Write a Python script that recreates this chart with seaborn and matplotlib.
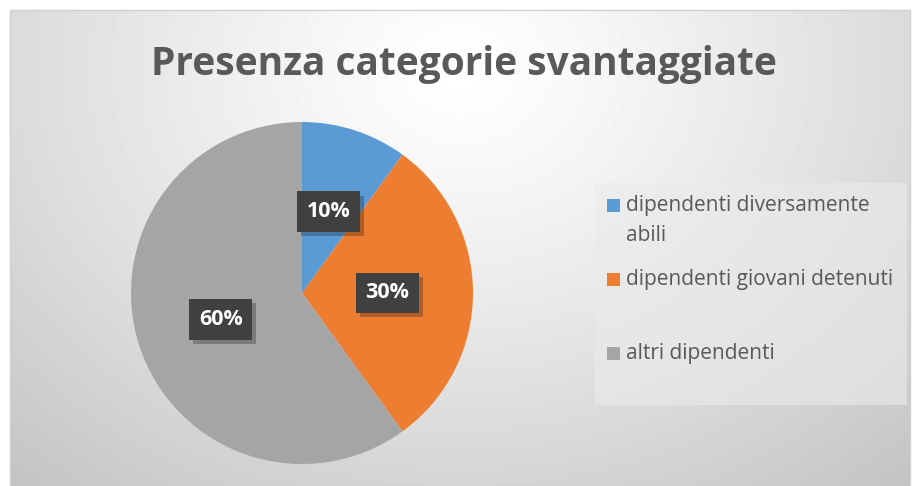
import numpy as np
import matplotlib
matplotlib.use("Agg")
import matplotlib.pyplot as plt
import matplotlib.patheffects as pe
from matplotlib.patches import Rectangle
import seaborn as sns

# Data
CATEGORIES = ["dipendenti diversamente\nabili", "dipendenti giovani detenuti", "altri dipendenti"]
SHARES = [10, 30, 60]
COLORS = ["#5B9BD5", "#ED7D31", "#A5A5A5"]
TITLE = "Presenza categorie svantaggiate"

sns.set_style("white")
plt.rcParams['font.family'] = ['Open Sans', 'DejaVu Sans']

W, H = 914, 486
fig = plt.figure(figsize=(W / 100, H / 100), dpi=100)
fig.patch.set_facecolor("white")

# background with soft radial gradient
bg = fig.add_axes([10 / W, 0, 900 / W, 476 / H])
yy, xx = np.mgrid[0:476, 0:900]
d = np.sqrt(((xx - 450) / 520.0) ** 2 + ((yy - 60) / 420.0) ** 2)
shade = 1.0 - 0.17 * np.clip(d, 0, 1.3) ** 1.2
bg.imshow(shade, cmap="gray", vmin=0, vmax=1, aspect="auto", interpolation="bilinear")
bg.set_axis_off()
fig.add_artist(Rectangle((10 / W, 0), 900 / W, 476 / H, transform=fig.transFigure,
                         fill=False, edgecolor="#d0d0d0", lw=1))

# pie
cx, cy, r = 302, 293, 171
ax = fig.add_axes([(cx - r) / W, (H - cy - r) / H, 2 * r / W, 2 * r / H])
wedges, texts, autotexts = ax.pie(SHARES, colors=COLORS, startangle=90, counterclock=False,
                                  autopct="%d%%", pctdistance=0.5,
                                  wedgeprops=dict(linewidth=0))
ax.set_xlim(-1, 1)
ax.set_ylim(-1, 1)
ax.set_aspect("equal")
for t in autotexts:
    t.set_color("white")
    t.set_fontsize(15.5)
    t.set_fontweight("bold")
    t.set_bbox(dict(boxstyle="square,pad=0.45", facecolor="#404040", edgecolor="none"))
    t.get_bbox_patch().set_path_effects([pe.withSimplePatchShadow(offset=(3, -3), shadow_rgbFace="#000000", alpha=0.25)])

fig.text(464 / W, 1 - 64 / H, TITLE, ha="center", va="center", fontsize=28,
         fontweight="bold", color="#595959")

# legend, laid out like the Office one (marker on first line of each entry)
fig.add_artist(Rectangle((595 / W, 1 - 405 / H), 312 / W, 222 / H, transform=fig.transFigure,
                         facecolor="#ebebeb", edgecolor="none", alpha=0.6))
entry_y = [205, 279, 353]
for lab, col, y in zip(CATEGORIES, COLORS, entry_y):
    fig.add_artist(Rectangle((607 / W, 1 - (y + 7) / H), 13 / W, 13 / H,
                             transform=fig.transFigure, facecolor=col, edgecolor="none"))
    for i, line in enumerate(lab.split("\n")):
        fig.text(626 / W, 1 - (y + 30 * i) / H, line, ha="left", va="center",
                 fontsize=15, color="#595959")

fig.savefig("out.png", dpi=100)
